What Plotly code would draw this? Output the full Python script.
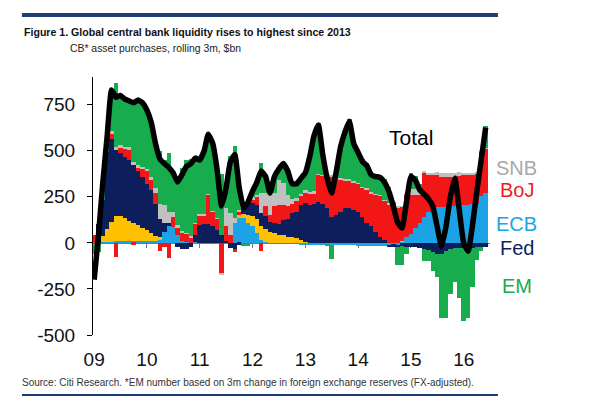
import plotly.graph_objects as go
import pandas as pd

# Monthly periods, Jan 2009 .. Jun 2016
months = pd.date_range("2009-01-01", periods=90, freq="MS")

y_tick_values = [-500, -250, 0, 250, 500, 750]
y_tick_labels = ["-500", "-250", "0", "250", "500", "750"]

total = [-200, 50, 320, 580, 830, 790, 800, 780, 770, 760,
         775, 760, 720, 650, 540, 455, 430, 410, 380, 330,
         370, 415, 430, 460, 450, 500, 590, 540, 400, 200,
         290, 440, 480, 300, 190, 220, 280, 330, 390, 360,
         270, 360, 400, 430, 390, 320, 320, 350, 380, 470,
         580, 640, 480, 350, 270, 380, 520, 600, 660, 540,
         490, 440, 420, 370, 360, 355, 330, 280, 200, 110,
         80, 220, 360, 340, 290, 265, 240, 200, 90, -20,
         90, 250, 350, 180, 0, -45, 90, 280, 450, 625]

ecb = [0, 0, 5, 5, 5, 8, 8, 8, 8, 8,
       8, 8, 8, 8, 8, 20, 60, 90, 85, 40,
       10, 5, 0, 5, 0, 0, 0, 0, 0, 0,
       0, 0, 107, 134, 134, 110, 90, 55, 15, 5,
       0, 0, 0, 0, 0, 0, 0, -10, -10, -10,
       -10, -10, -10, -10, -10, -10, -10, -10, -10, -10,
       -15, -15, -15, -15, -15, -15, -15, -15, -10, -10,
       5, 30, 50, 80, 110, 140, 170, 185, 195, 195,
       195, 200, 200, 205, 205, 205, 210, 210, 255, 270]

boe = [0, 0, 30, 70, 110, 140, 140, 125, 110, 100,
       90, 75, 60, 45, 30, 10, 0, 0, 0, 0,
       0, 0, 0, 0, 0, 0, 0, 0, 0, 0,
       0, 0, 0, 15, 25, 40, 55, 75, 75, 70,
       60, 55, 45, 40, 30, 30, 25, 15, 5, 0,
       0, 0, 0, 0, 0, 0, 0, 0, 0, 0,
       0, 0, 0, 0, 0, 0, 0, 0, 0, 0,
       5, 0, 0, 0, 0, 0, 0, 0, 0, 0,
       0, 0, 0, 0, 0, 0, 0, 0, 0, 0]

fed = [0, 100, 200, 420, 450, 355, 337, 334, 331, 314,
       296, 275, 254, 233, 175, 100, 47, 20, 0, -20,
       -35, -35, -25, 40, 95, 105, 100, 90, 70, 40,
       10, -30, -38, -10, 45, 60, 70, 75, 70, 70,
       55, 55, 60, 85, 100, 130, 140, 190, 210, 206,
       210, 224, 210, 190, 143, 150, 165, 188, 188, 180,
       170, 140, 110, 89, 60, 34, 15, -10, -10, -15,
       -15, -20, -20, -25, -30, -35, -40, -50, -60, -60,
       -45, -35, -30, -30, -30, -35, -30, -25, -20, -20]

boj = [40, 0, 0, 0, 30, -75, 30, 45, 60, -10,
       10, 45, 70, 55, 55, -45, -20, -80, 55, 40,
       45, 45, 30, 60, 55, 45, 160, 80, 60, -165,
       80, 40, -10, 20, 0, 20, 20, 45, -45, 54,
       36, 90, 100, 81, 72, 50, 60, 50, 60, 60,
       60, 146, 155, 170, 217, 205, 180, 152, 152, 150,
       150, 160, 180, 181, 200, 221, 215, 210, 195, 190,
       185, 230, 210, 180, 150, 240, 200, 185, 175, 165,
       165, 160, 160, 160, 165, 165, 160, 165, 240, 240]

snb = [0, 0, 0, 0, 10, 15, 15, 10, 10, 15,
       18, 10, 10, 15, 30, 80, 100, 60, 30, 15,
       10, 5, 5, 5, 5, 5, 5, 5, 5, -10,
       100, 120, 30, 10, 5, 5, 15, 10, 108, 72,
       108, 72, 135, 117, 60, 30, 20, 10, 10, 10,
       10, 5, 5, 5, 5, 5, 5, 5, 5, 5,
       5, 5, 5, 5, 5, 5, 5, 5, 5, 5,
       5, 10, 30, 30, 30, 10, 10, 10, 15, 20,
       20, 20, 20, 20, 10, 10, 10, 5, 5, 5]

em = [-60, -50, 85, 85, 225, 347, 270, 258, 251, 333,
      353, 347, 318, 294, 242, 290, 243, 320, 210, 255,
      340, 395, 420, 350, 295, 345, 325, 365, 265, 335,
      100, 310, 391, 131, -19, -15, 30, 70, 167, 89,
      11, 88, 60, 107, 128, 80, 75, 95, 105, 204,
      310, 275, 120, -5, -75, 30, 180, 265, 325, 215,
      180, 150, 140, 110, 110, 110, 110, 90, 20, -95,
      -105, -40, 90, 75, 30, -65, -60, -105, -125, -350,
      -365, -245, -180, -270, -395, -375, -210, -70, -25, 120]

series_names = ["ECB", "BoE", "Fed", "BoJ", "SNB", "EM"]
series_values = [ecb, boe, fed, boj, snb, em]
series_colors = ["#1ba3e6", "#ffc000", "#0c1f5c", "#f21616", "#c0c0c0", "#17ad4c"]

label_names = ["SNB", "BoJ", "ECB", "Fed", "EM"]
label_colors = ["#a8a8a8", "#ee1c1c", "#1ba3e6", "#0c1f5c", "#17ad4c"]
label_y = [0.647, 0.562, 0.430, 0.337, 0.190]

FONT = "Liberation Sans, Arial, sans-serif"

fig = go.Figure()
month_ms = 31 * 24 * 3600 * 1000
for name, vals, col in zip(series_names, series_values, series_colors):
    fig.add_trace(go.Bar(
        x=months, y=vals, name=name, width=[month_ms] * len(months),
        marker=dict(color=col, line=dict(width=0)), showlegend=False))

fig.add_trace(go.Scatter(
    x=months, y=total, mode="lines", name="Total", showlegend=False,
    line=dict(color="black", width=5.5, shape="spline", smoothing=0.4)))

# helper trace so the zero-line axis is drawn
fig.add_trace(go.Scatter(x=[months[0]], y=[0], xaxis="x2", mode="markers",
                         marker=dict(opacity=0), hoverinfo="skip", showlegend=False))

x_range = ["2008-12-24", "2016-07-01"]
fig.update_layout(
    width=600, height=407,
    margin=dict(l=85, r=118, t=69, b=80),
    paper_bgcolor="white", plot_bgcolor="white",
    barmode="relative", bargap=0,
    font=dict(family=FONT, color="#111"),
    xaxis=dict(type="date", range=x_range, tickformat="%y", dtick="M12",
               tick0="2009-01-01", ticks="", showline=False, showgrid=False,
               zeroline=False, tickfont=dict(size=19, family=FONT, color="#111"),
               ticklabelstandoff=11),
    xaxis2=dict(type="date", range=x_range, overlaying="x", anchor="free",
                position=500 / 1400, side="bottom", showline=True,
                linecolor="#777", linewidth=1, ticks="outside", ticklen=4,
                tickcolor="#777", dtick="M12", tick0="2009-01-01",
                showticklabels=False, showgrid=False, zeroline=False,
                layer="below traces"),
    yaxis=dict(range=[-500, 900], tickvals=y_tick_values, ticktext=y_tick_labels,
               ticks="outside", ticklen=5, tickcolor="black", showline=True,
               linecolor="black", linewidth=1, showgrid=False, zeroline=False,
               tickfont=dict(size=19, family=FONT, color="#111"),
               ticklabelstandoff=8),
)

annotations = [
    dict(text="Total", x=0.80, y=0.764, xref="paper", yref="paper",
         xanchor="center", yanchor="middle",
         showarrow=False, font=dict(size=21, family=FONT, color="black")),
    dict(text="<b>Figure 1. Global central bank liquidity rises to highest since 2013</b>",
         x=-0.179, y=1.174, xref="paper", yref="paper", xanchor="left", yanchor="middle",
         showarrow=False, font=dict(size=10.6, family=FONT, color="#111")),
    dict(text="CB* asset purchases, rolling 3m, $bn",
         x=-0.063, y=1.112, xref="paper", yref="paper", xanchor="left", yanchor="middle",
         showarrow=False, font=dict(size=10.4, family=FONT, color="#222")),
    dict(text="Source: Citi Research. *EM number based on 3m change in foreign exchange reserves (FX-adjusted).",
         x=-0.184, y=-0.186, xref="paper", yref="paper", xanchor="left", yanchor="middle",
         showarrow=False, font=dict(size=10, family=FONT, color="#333")),
]
for nm, col, yy in zip(label_names, label_colors, label_y):
    annotations.append(dict(text=nm, x=1.068, y=yy, xref="paper", yref="paper",
                            xanchor="center", yanchor="middle",
                            showarrow=False, font=dict(size=20, family=FONT, color=col)))
fig.update_layout(annotations=annotations)

fig.update_layout(shapes=[
    dict(type="line", xref="paper", yref="paper", x0=-0.179, x1=1.020,
         y0=1.240, y1=1.240, line=dict(color="#1d3c78", width=4)),
    dict(type="line", xref="paper", yref="paper", x0=-0.179, x1=1.020,
         y0=-0.2326, y1=-0.2326, line=dict(color="#1d3c78", width=2)),
])

fig.write_html("out.html")
